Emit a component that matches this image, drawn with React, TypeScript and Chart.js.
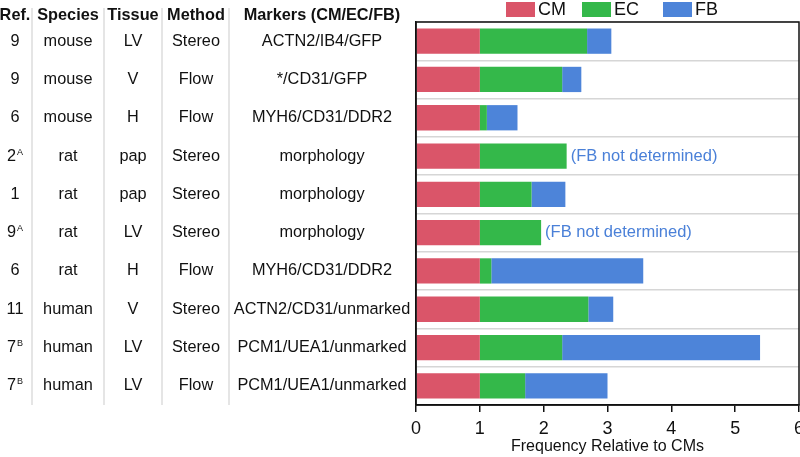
import React, { useEffect, useRef } from "react";
import { Chart, registerables } from "chart.js";

Chart.register(...registerables);

const headers = ["Ref.", "Species", "Tissue", "Method", "Markers (CM/EC/FB)"];
const refs = ["9", "9", "6", "2", "1", "9", "6", "11", "7", "7"];
const refSup = ["", "", "", "A", "", "A", "", "", "B", "B"];
const species = ["mouse", "mouse", "mouse", "rat", "rat", "rat", "rat", "human", "human", "human"];
const tissues = ["LV", "V", "H", "pap", "pap", "LV", "H", "V", "LV", "LV"];
const methods = ["Stereo", "Flow", "Flow", "Stereo", "Stereo", "Stereo", "Flow", "Stereo", "Stereo", "Flow"];
const markers = [
  "ACTN2/IB4/GFP",
  "*/CD31/GFP",
  "MYH6/CD31/DDR2",
  "morphology",
  "morphology",
  "morphology",
  "MYH6/CD31/DDR2",
  "ACTN2/CD31/unmarked",
  "PCM1/UEA1/unmarked",
  "PCM1/UEA1/unmarked",
];
const seriesNames = ["CM", "EC", "FB"];
const cmValues = [1, 1, 1, 1, 1, 1, 1, 1, 1, 1];
const ecValues = [1.68, 1.29, 0.11, 1.36, 0.81, 0.96, 0.18, 1.7, 1.29, 0.71];
const fbValues: (number | null)[] = [0.38, 0.3, 0.48, null, 0.53, null, 2.38, 0.39, 3.1, 1.29];
const notDeterminedLabel = "(FB not determined)";
const xTicks = [0, 1, 2, 3, 4, 5, 6];
const xTitle = "Frequency Relative to CMs";

const COLORS = ["#da5569", "#34b84a", "#4d84d9"];
const NOTE_COLOR = "#4a80d8";
const FONT = "'Liberation Sans', Arial, sans-serif";

const colCenters = [15, 68, 133, 196, 322];
const separators = [32, 104, 162, 229];
const legendX = [506, 582, 663];

const tablePlugin = {
  id: "tablePlugin",
  afterDraw(chart: any) {
    const ctx = chart.ctx as CanvasRenderingContext2D;
    const y = chart.scales.y;
    const x = chart.scales.x;
    const area = chart.chartArea;
    ctx.save();

    // separators
    ctx.strokeStyle = "#dcdcdc";
    ctx.lineWidth = 1.5;
    separators.forEach((sx) => {
      ctx.beginPath();
      ctx.moveTo(sx, 8);
      ctx.lineTo(sx, area.bottom);
      ctx.stroke();
    });

    // header
    ctx.fillStyle = "#111";
    ctx.textAlign = "center";
    ctx.textBaseline = "middle";
    ctx.font = `bold 16.3px ${FONT}`;
    headers.forEach((h, i) => ctx.fillText(h, colCenters[i], 16));

    // rows
    for (let i = 0; i < refs.length; i++) {
      const py = y.getPixelForValue(i);
      const base = refs[i];
      const sup = refSup[i];
      ctx.font = `16.3px ${FONT}`;
      const bw = ctx.measureText(base).width;
      ctx.font = `9px ${FONT}`;
      const sw = sup ? ctx.measureText(sup).width + 1 : 0;
      const start = colCenters[0] - (bw + sw) / 2;
      ctx.textAlign = "left";
      ctx.font = `16.3px ${FONT}`;
      ctx.fillText(base, start, py);
      if (sup) {
        ctx.font = `9px ${FONT}`;
        ctx.fillText(sup, start + bw + 1, py - 4);
      }
      ctx.textAlign = "center";
      ctx.font = `16.3px ${FONT}`;
      ctx.fillText(species[i], colCenters[1], py);
      ctx.fillText(tissues[i], colCenters[2], py);
      ctx.fillText(methods[i], colCenters[3], py);
      ctx.fillText(markers[i], colCenters[4], py);

      if (fbValues[i] === null) {
        const end = cmValues[i] + ecValues[i];
        ctx.fillStyle = NOTE_COLOR;
        ctx.textAlign = "left";
        ctx.font = `16.5px ${FONT}`;
        ctx.fillText(notDeterminedLabel, x.getPixelForValue(end) + 4, py);
        ctx.fillStyle = "#111";
        ctx.textAlign = "center";
      }
    }

    // chart frame
    ctx.strokeStyle = "#111";
    ctx.lineWidth = 1.5;
    ctx.strokeRect(area.left, area.top, area.right - area.left, area.bottom - area.top);

    // legend
    ctx.textAlign = "left";
    ctx.textBaseline = "middle";
    ctx.font = `18px ${FONT}`;
    seriesNames.forEach((name, i) => {
      const lx = legendX[i];
      ctx.fillStyle = COLORS[i];
      ctx.fillRect(lx, 2, 29, 15);
      ctx.fillStyle = "#111";
      ctx.fillText(name, lx + 32, 10);
    });

    ctx.restore();
  },
};

export default function App() {
  const canvasRef = useRef<HTMLCanvasElement | null>(null);

  useEffect(() => {
    document.body.style.margin = "0";
    const canvas = canvasRef.current;
    if (!canvas) return;
    const labels = refs.map((r, i) => `${r}${refSup[i]} ${species[i]} ${tissues[i]} ${methods[i]} ${markers[i]}`);
    const values = [cmValues, ecValues, fbValues];
    const chart = new Chart(canvas, {
      type: "bar",
      data: {
        labels,
        datasets: seriesNames.map((name, i) => ({
          label: name,
          data: values[i] as any,
          backgroundColor: COLORS[i],
          borderWidth: 0,
          barPercentage: 0.66,
          categoryPercentage: 1,
        })),
      },
      options: {
        indexAxis: "y",
        animation: false,
        responsive: false,
        maintainAspectRatio: false,
        layout: { padding: { top: 22, right: 1, bottom: 0, left: 0 } },
        plugins: {
          legend: { display: false },
          tooltip: { enabled: false },
        },
        scales: {
          x: {
            stacked: true,
            min: 0,
            max: 6,
            afterBuildTicks: (scale: any) => {
              scale.ticks = xTicks.map((v) => ({ value: v }));
            },
            afterFit: (scale: any) => {
              scale.paddingLeft = 0;
              scale.paddingRight = 0;
              scale.height = 52;
            },
            grid: {
              drawOnChartArea: false,
              drawTicks: true,
              tickLength: 7,
              color: "#111",
              lineWidth: 1.5,
            },
            border: { display: true, color: "#111", width: 1.5 },
            ticks: {
              color: "#111",
              font: { family: FONT, size: 18 },
              padding: 6,
              maxRotation: 0,
            },
            title: {
              display: true,
              text: xTitle,
              color: "#111",
              font: { family: FONT, size: 16, lineHeight: 1.1 },
              padding: { top: 0, bottom: 1.5 },
            },
          },
          y: {
            stacked: true,
            afterFit: (scale: any) => {
              scale.width = 416;
            },
            ticks: { display: false },
            grid: {
              drawOnChartArea: true,
              drawTicks: false,
              color: "#d6d6d6",
              lineWidth: 1.5,
              offset: true,
            },
            border: { display: true, color: "#111", width: 1.5 },
          },
        },
      },
      plugins: [tablePlugin],
    });
    return () => chart.destroy();
  }, []);

  return (
    <div style={{ position: "fixed", left: 0, top: 0, width: 800, height: 457, background: "#fff" }}>
      <canvas ref={canvasRef} width={800} height={457} style={{ width: 800, height: 457 }} />
    </div>
  );
}
